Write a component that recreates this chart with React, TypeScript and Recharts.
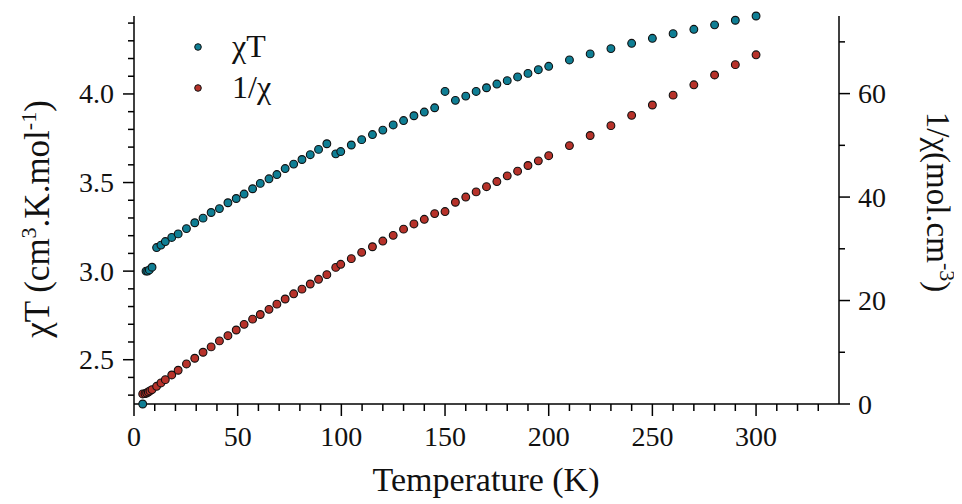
import { ScatterChart, Scatter, XAxis, YAxis, Legend, Label } from 'recharts'

// temperatures (K)
const LOW_T_CHI_T = [4.2, 5.8, 6.6, 7.4, 8.7]
const LOW_T_INV_CHI = [4.2, 5.3, 6.1, 6.9, 7.7, 8.7]
const COMMON_T = [
  10.9, 13, 15.1, 18.2, 21.3, 25.3, 29.3, 33.3, 37.2, 41.2, 45.3, 49.3, 53.1, 57.2, 60.9, 65.1,
  68.9, 72.9, 77, 81, 85, 89, 93, 97.3, 99.7, 104.8, 109.8, 115, 120, 125, 130, 135, 140, 145,
  150, 155, 160, 165, 170, 175, 180, 185, 190, 195, 200, 210, 220, 230, 240, 250, 260, 270, 280,
  290, 300,
]

// chi*T (cm3.K.mol-1)
const LOW_CHI_T = [2.25, 3.0, 3.0, 3.007, 3.022]
const CHI_T = [
  3.133, 3.147, 3.167, 3.19, 3.21, 3.24, 3.273, 3.299, 3.331, 3.353, 3.386, 3.41, 3.435, 3.465,
  3.495, 3.521, 3.545, 3.579, 3.604, 3.63, 3.657, 3.687, 3.719, 3.662, 3.675, 3.712, 3.742, 3.771,
  3.796, 3.825, 3.85, 3.877, 3.898, 3.922, 4.014, 3.964, 3.988, 4.014, 4.035, 4.056, 4.075, 4.096,
  4.116, 4.137, 4.156, 4.192, 4.226, 4.256, 4.286, 4.314, 4.34, 4.365, 4.39, 4.416, 4.44,
]

// 1/chi (mol.cm-3)
const LOW_INV_CHI = [1.94, 2.0, 2.13, 2.32, 2.52, 2.78]
const INV_CHI = [
  3.42, 4.07, 4.71, 5.61, 6.52, 7.74, 8.84, 10.0, 11.04, 12.2, 13.2, 14.3, 15.4, 16.4, 17.3, 18.3,
  19.3, 20.3, 21.3, 22.2, 23.2, 24.1, 25.0, 26.4, 27.0, 28.1, 29.3, 30.4, 31.5, 32.6, 33.8, 34.8,
  35.7, 36.8, 37.2, 39.0, 40.0, 41.0, 42.0, 43.0, 44.1, 45.0, 46.1, 47.0, 48.0, 49.95, 51.9, 53.8,
  55.8, 57.8, 59.7, 61.7, 63.6, 65.6, 67.5,
]

const X_TICKS = [0, 10, 20, 30, 40, 50, 60, 70, 80, 90, 100, 110, 120, 130, 140, 150, 160, 170, 180, 190, 200, 210, 220, 230, 240, 250, 260, 270, 280, 290, 300, 310, 320, 330]
const X_MAJOR = [0, 50, 100, 150, 200, 250, 300]
const LEFT_TICKS = [2.3, 2.4, 2.5, 2.6, 2.7, 2.8, 2.9, 3.0, 3.1, 3.2, 3.3, 3.4, 3.5, 3.6, 3.7, 3.8, 3.9, 4.0, 4.1, 4.2, 4.3, 4.4]
const LEFT_MAJOR = [2.5, 3.0, 3.5, 4.0]
const RIGHT_TICKS = [0, 10, 20, 30, 40, 50, 60, 70]
const RIGHT_MAJOR = [0, 20, 40, 60]

const CYAN = '#0f7e94'
const RED = '#b7322a'
const FONT = '"Liberation Serif", "Times New Roman", serif'

const chiTData = [...LOW_T_CHI_T, ...COMMON_T].map((t, i) => ({ t, v: [...LOW_CHI_T, ...CHI_T][i] }))
const invChiData = [...LOW_T_INV_CHI, ...COMMON_T].map((t, i) => ({ t, v: [...LOW_INV_CHI, ...INV_CHI][i] }))

const isMajor = (list: number[], v: number) => list.some((m) => Math.abs(m - v) < 1e-6)

function XTick(props: any) {
  const { x, y, payload } = props
  const major = isMajor(X_MAJOR, payload.value)
  return (
    <g>
      <line x1={x} x2={x} y1={y} y2={y + (major ? 12 : 7)} stroke="#000" strokeWidth={1.5} />
      {major && (
        <text x={x} y={y + 42} textAnchor="middle" fontSize={28} fill="#111" fontFamily={FONT}>
          {payload.value}
        </text>
      )}
    </g>
  )
}

function LeftTick(props: any) {
  const { x, y, payload } = props
  const major = isMajor(LEFT_MAJOR, payload.value)
  return (
    <g>
      <line x1={x} x2={x - (major ? 11 : 6)} y1={y} y2={y} stroke="#000" strokeWidth={1.5} />
      {major && (
        <text x={x - 20} y={y} dy="0.34em" textAnchor="end" fontSize={28} fill="#111" fontFamily={FONT}>
          {payload.value.toFixed(1)}
        </text>
      )}
    </g>
  )
}

function RightTick(props: any) {
  const { x, y, payload } = props
  const major = isMajor(RIGHT_MAJOR, payload.value)
  return (
    <g>
      <line x1={x} x2={x + (major ? 11 : 6)} y1={y} y2={y} stroke="#000" strokeWidth={1.5} />
      {major && (
        <text x={x + 19} y={y} dy="0.34em" textAnchor="start" fontSize={28} fill="#111" fontFamily={FONT}>
          {payload.value}
        </text>
      )}
    </g>
  )
}

const dot = (fill: string) => (p: any) => (
  <circle cx={p.cx} cy={p.cy} r={3.9} fill={fill} stroke="#111" strokeWidth={1.1} />
)

function LegendBox() {
  const rows = [
    { color: CYAN, label: <>χT</> },
    { color: RED, label: <>1/χ</> },
  ]
  return (
    <div style={{ fontFamily: FONT, fontSize: 32, color: '#111' }}>
      {rows.map((r, i) => (
        <div key={i} style={{ display: 'flex', alignItems: 'center', height: 41 }}>
          <svg width={10} height={10} style={{ marginRight: 29 }}>
            <circle cx={5} cy={5} r={3.3} fill={r.color} stroke="#111" strokeWidth={1} />
          </svg>
          <span>{r.label}</span>
        </div>
      ))}
    </div>
  )
}

export default function App() {
  return (
    <div style={{ fontFamily: FONT }}>
      <ScatterChart width={954} height={496} margin={{ top: 8, right: 43, bottom: 40, left: 26 }}>
        <XAxis
          type="number"
          dataKey="t"
          domain={[0, 340]}
          ticks={X_TICKS}
          interval={0}
          tickSize={0}
          tickMargin={0}
          tickLine={false}
          tick={<XTick />}
          height={60}
          axisLine={{ stroke: '#000', strokeWidth: 1.5 }}
        >
          <Label
            content={() => (
              <text x={478} y={483} textAnchor="middle" fontSize={34} fill="#111" fontFamily={FONT}>
                Temperature (K)
              </text>
            )}
          />
        </XAxis>
        <YAxis
          yAxisId="left"
          type="number"
          dataKey="v"
          domain={[2.25, 4.44]}
          ticks={LEFT_TICKS}
          interval={0}
          tickSize={0}
          tickMargin={0}
          tickLine={false}
          tick={<LeftTick />}
          width={100}
          axisLine={{ stroke: '#000', strokeWidth: 1.5 }}
        >
          <Label
            content={() => (
              <text
                x={41}
                y={211}
                transform="rotate(-90 41 211)"
                textAnchor="middle"
                fontSize={35}
                fill="#111"
                fontFamily={FONT}
              >
                χT (cm<tspan dy={-13} fontSize={22}>3</tspan>
                <tspan dy={13}>.K.mol</tspan>
                <tspan dy={-13} fontSize={22}>-1</tspan>
                <tspan dy={13}>)</tspan>
              </text>
            )}
          />
        </YAxis>
        <YAxis
          yAxisId="right"
          orientation="right"
          type="number"
          dataKey="v"
          domain={[0, 75]}
          ticks={RIGHT_TICKS}
          interval={0}
          tickSize={0}
          tickMargin={0}
          tickLine={false}
          tick={<RightTick />}
          width={80}
          axisLine={{ stroke: '#000', strokeWidth: 1.5 }}
        >
          <Label
            content={() => (
              <text
                x={919}
                y={194}
                transform="rotate(90 919 194)"
                textAnchor="middle"
                fontSize={33}
                fill="#111"
                fontFamily={FONT}
              >
                1/χ(mol.cm<tspan dy={-13} fontSize={22}>-3</tspan>
                <tspan dy={13}>)</tspan>
              </text>
            )}
          />
        </YAxis>
        <Legend
          layout="vertical"
          align="center"
          verticalAlign="middle"
          content={() => <LegendBox />}
          wrapperStyle={{ left: 185, top: 18, width: 'auto' }}
        />
        <Scatter yAxisId="left" data={chiTData} shape={dot(CYAN)} isAnimationActive={false} />
        <Scatter yAxisId="right" data={invChiData} shape={dot(RED)} isAnimationActive={false} />
      </ScatterChart>
    </div>
  )
}
